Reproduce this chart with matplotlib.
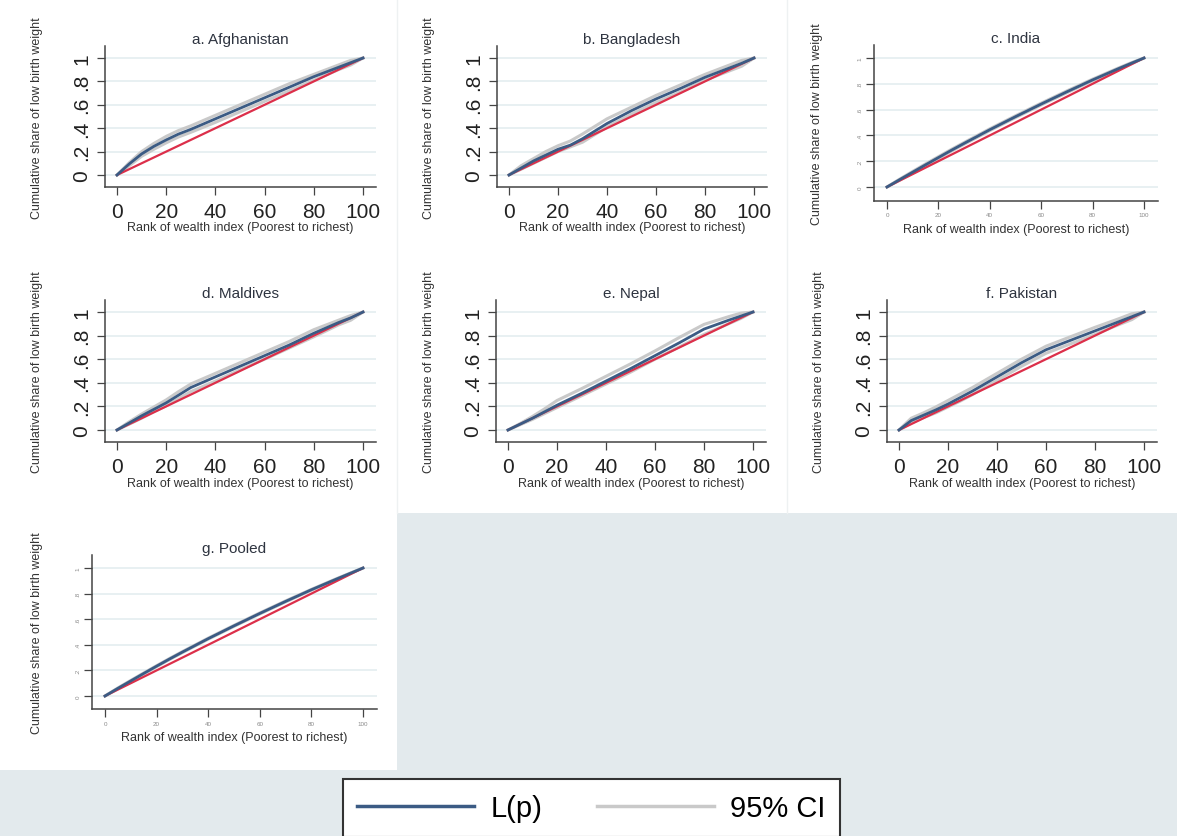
import matplotlib
matplotlib.use('Agg')
import matplotlib.pyplot as plt
from matplotlib.patches import Rectangle
from matplotlib.lines import Line2D

plt.rcParams['font.family'] = ['Liberation Sans', 'DejaVu Sans']

W, H = 1177, 837

# Datos: rango de riqueza (percentil) y curvas de concentración L(p) con IC 95%
rank = [0, 5, 10, 15, 20, 25, 30, 40, 50, 60, 70, 80, 90, 95, 100]
equality_x = [0, 100]
equality_y = [0, 1]

afg_lp = [0, .095, .18, .245, .30, .35, .39, .48, .57, .66, .75, .84, .92, .96, 1]
afg_hi = [0, .105, .20, .27, .33, .38, .42, .51, .60, .69, .78, .86, .94, .98, 1]
afg_lo = [0, .08, .16, .22, .275, .325, .365, .45, .54, .63, .72, .81, .90, .94, 1]

bgd_lp = [0, .06, .12, .17, .22, .255, .31, .44, .55, .65, .74, .835, .915, .955, 1]
bgd_hi = [0, .08, .14, .20, .25, .29, .35, .48, .58, .68, .77, .86, .94, .98, 1]
bgd_lo = [0, .05, .10, .15, .20, .24, .28, .41, .52, .62, .71, .81, .89, .93, 1]

ind_lp = [0, .058, .115, .172, .228, .284, .338, .444, .545, .643, .738, .830, .917, .959, 1]
ind_hi = [0, .062, .121, .179, .235, .291, .345, .451, .552, .650, .745, .836, .922, .963, 1]
ind_lo = [0, .054, .109, .165, .221, .277, .331, .437, .538, .636, .731, .824, .912, .955, 1]

mdv_lp = [0, .06, .12, .175, .23, .295, .36, .45, .54, .63, .72, .82, .91, .95, 1]
mdv_hi = [0, .07, .135, .195, .255, .325, .39, .48, .57, .66, .75, .85, .93, .97, 1]
mdv_lo = [0, .05, .10, .155, .205, .265, .325, .415, .51, .60, .695, .79, .89, .93, 1]

npl_lp = [0, .05, .10, .155, .21, .26, .31, .415, .52, .63, .74, .855, .93, .965, 1]
npl_hi = [0, .055, .115, .18, .25, .30, .35, .455, .56, .67, .785, .895, .96, .99, 1]
npl_lo = [0, .045, .09, .14, .19, .24, .29, .39, .49, .60, .705, .81, .90, .945, 1]

pak_lp = [0, .08, .125, .17, .22, .275, .33, .45, .57, .68, .76, .84, .92, .96, 1]
pak_hi = [0, .10, .145, .195, .25, .305, .36, .48, .60, .71, .79, .87, .945, .985, 1]
pak_lo = [0, .06, .105, .145, .195, .245, .30, .42, .54, .65, .73, .81, .895, .935, 1]

pool_lp = [0, .06, .118, .176, .233, .289, .343, .448, .548, .645, .739, .830, .916, .958, 1]
pool_hi = [0, .063, .122, .180, .237, .293, .347, .452, .552, .649, .743, .833, .919, .960, 1]
pool_lo = [0, .057, .114, .172, .229, .285, .339, .444, .544, .641, .735, .827, .913, .956, 1]

titles = ['a. Afghanistan', 'b. Bangladesh', 'c. India', 'd. Maldives',
          'e. Nepal', 'f. Pakistan', 'g. Pooled']
curves = [(afg_lp, afg_lo, afg_hi), (bgd_lp, bgd_lo, bgd_hi), (ind_lp, ind_lo, ind_hi),
          (mdv_lp, mdv_lo, mdv_hi), (npl_lp, npl_lo, npl_hi), (pak_lp, pak_lo, pak_hi),
          (pool_lp, pool_lo, pool_hi)]

xticks = [0, 20, 40, 60, 80, 100]
yticks = [0, .2, .4, .6, .8, 1]
ytick_labels = ['0', '.2', '.4', '.6', '.8', '1']

# Posición de cada panel en píxeles: x=0, x=100, y=0, y=1, pos. etiqueta Y, desfase etiqueta X
layout = [
    (117, 363, 176, 59, 43, 34),
    (509, 754, 176, 59, 435, 34),
    (887, 1144, 188, 59, 823, 22),
    (117, 363, 431, 313, 43, 35),
    (508, 753, 431, 313, 435, 35),
    (899, 1144, 431, 313, 825, 35),
    (105, 363, 697, 569, 43, 22),
]
small_ticks = [False, False, True, False, False, False, True]

XLIM = (-5, 105.3)
YLIM = (-0.105, 1.1)

blue = '#3b5b84'
red = '#dc2f4a'
grey = '#c9c9c9'
axis_col = '#444444'

fig = plt.figure(figsize=(W / 100, H / 100), dpi=100, facecolor='#e3eaed')

# fondos blancos de los paneles (detrás de los ejes)
fig.patches.append(Rectangle((0, 1 - 514 / H), 1, 514 / H, transform=fig.transFigure,
                             facecolor='white', edgecolor='none', zorder=-2))
fig.patches.append(Rectangle((0, 1 - 771 / H), 397 / W, (771 - 514) / H, transform=fig.transFigure,
                             facecolor='white', edgecolor='none', zorder=-2))
for sx in [397, 787]:
    fig.lines.append(Line2D([sx / W, sx / W], [1 - 514 / H, 1], transform=fig.transFigure,
                            color='#eef1f2', lw=1, zorder=-1))

for i in range(7):
    x0, x100, y0, y1, ylab_x, xlab_off = layout[i]
    sx = (x100 - x0) / 100.0
    sy = (y0 - y1)
    left = x0 + XLIM[0] * sx
    right = x0 + XLIM[1] * sx
    bottom = y0 - YLIM[0] * sy
    top = y0 - YLIM[1] * sy
    ax = fig.add_axes([left / W, 1 - bottom / H, (right - left) / W, (bottom - top) / H])
    ax.set_facecolor('none')
    ax.set_xlim(XLIM)
    ax.set_ylim(YLIM)
    for s in ['top', 'right']:
        ax.spines[s].set_visible(False)
    for s in ['left', 'bottom']:
        ax.spines[s].set_color(axis_col)
        ax.spines[s].set_linewidth(1.1)

    ax.set_xticks(xticks)
    ax.set_yticks(yticks)
    ax.set_yticklabels(ytick_labels, rotation=90, va='center')
    if small_ticks[i]:
        ax.tick_params(length=5.5, width=0.9, color=axis_col, labelsize=4.5,
                       labelcolor='#8a8a8a', pad=3)
    else:
        ax.tick_params(length=5.5, width=0.9, color=axis_col, labelsize=15,
                       labelcolor='#222222')
        ax.tick_params(axis='x', pad=5)
        ax.tick_params(axis='y', pad=4)

    ax.grid(axis='y', color='#e4edf0', lw=1.2)
    ax.set_axisbelow(True)

    lp, lo, hi = curves[i]
    ax.plot(rank, lo, color=grey, lw=2.2, zorder=2)
    ax.plot(rank, hi, color=grey, lw=2.2, zorder=2)
    ax.plot(equality_x, equality_y, color=red, lw=1.6, zorder=3)
    ax.plot(rank, lp, color=blue, lw=2.0, zorder=4)

    ax.set_title(titles[i], fontsize=11, color='#2e3440', pad=2.5)
    ax.set_ylabel('Cumulative share of low birth weight', fontsize=9, color='#333333')
    ax.yaxis.set_label_coords(ylab_x / W, 1 - ((top + bottom) / 2) / H, transform=fig.transFigure)
    ax.set_xlabel('Rank of wealth index (Poorest to richest)', fontsize=9, color='#333333')
    ax.xaxis.set_label_coords(((left + right) / 2) / W, 1 - (bottom + xlab_off) / H,
                              transform=fig.transFigure)

# leyenda común
handles = [Line2D([], [], color=blue, lw=2.5), Line2D([], [], color=grey, lw=2.5)]
leg = fig.legend(handles, ['L(p)', '95% CI'], loc='center',
                 bbox_to_anchor=(591.5 / W, 1 - 809 / H), ncol=2, fontsize=21,
                 frameon=True, fancybox=False, edgecolor='#333333', facecolor='white',
                 framealpha=1, handlelength=4.0, handletextpad=0.55, columnspacing=1.9,
                 borderpad=0.5)
leg.get_frame().set_linewidth(1.5)

fig.savefig('out.png', dpi=100, facecolor=fig.get_facecolor())
